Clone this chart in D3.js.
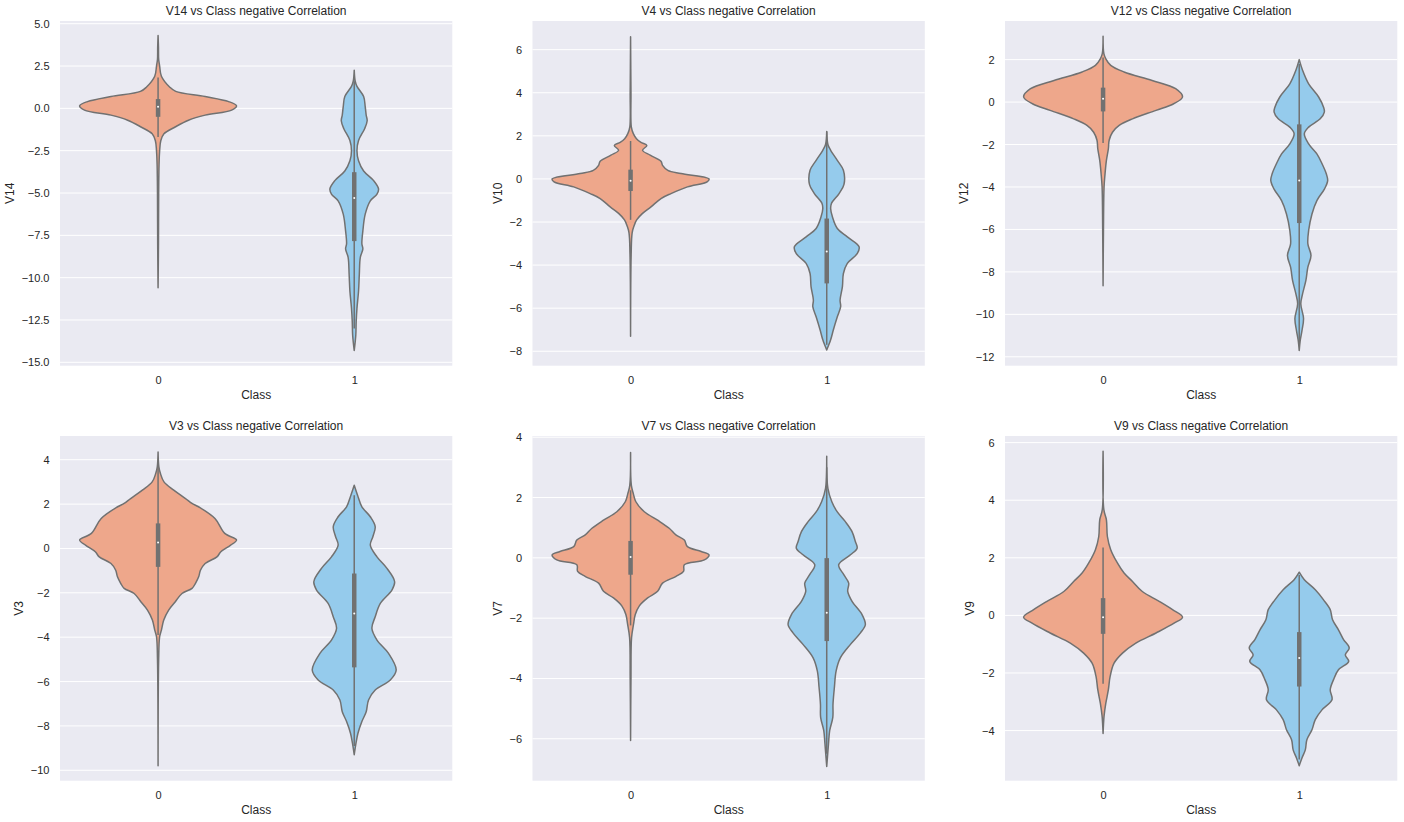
<!DOCTYPE html>
<html><head><meta charset="utf-8">
<script src="https://cdn.jsdelivr.net/npm/d3@7"></script>
<style>
body{margin:0;background:#fff}
text{font-family:"Liberation Sans",Arial,sans-serif;fill:#262626}
</style>
</head><body>
<svg id="chart" width="1404" height="822"></svg>
<script>
// ---------- data ----------
const classes = ["0", "1"];
const titles = ["V14 vs Class negative Correlation","V4 vs Class negative Correlation","V12 vs Class negative Correlation",
                "V3 vs Class negative Correlation","V7 vs Class negative Correlation","V9 vs Class negative Correlation"];
const ylabels = ["V14","V10","V12","V3","V7","V9"];
const yDomains = [[-15.2,5.16],[-8.67,7.33],[-12.42,3.82],[-10.47,5.07],[-7.39,4.04],[-5.74,6.23]];
const yTicks = [[5,2.5,0,-2.5,-5,-7.5,-10,-12.5,-15],[6,4,2,0,-2,-4,-6,-8],[2,0,-2,-4,-6,-8,-10,-12],
                [4,2,0,-2,-4,-6,-8,-10],[4,2,0,-2,-4,-6],[6,4,2,0,-2,-4]];
const tickFormats = [".1f","d","d","d","d","d"];

// violin profiles: [value, half-width in category units]
const v14_0 = [[4.3,0],[3.6,0.002],[2.9,0.003],[2.5,0.008],[1.9,0.017],[1.25,0.06],[1.0,0.09],[0.7,0.24],[0.4,0.36],[0.15,0.40],[-0.1,0.375],[-0.4,0.24],[-0.7,0.155],[-1.1,0.087],[-1.5,0.03],[-1.9,0.014],[-2.5,0.008],[-3.3,0.005],[-5,0.003],[-8,0.002],[-10.6,0]];
const v14_1 = [[2.25,0],[1.6,0.005],[1.3,0.014],[0.7,0.048],[0.1,0.056],[-0.4,0.061],[-0.73,0.066],[-1.2,0.053],[-1.9,0.022],[-2.5,0.014],[-3.1,0.022],[-3.7,0.048],[-4.27,0.099],[-4.76,0.124],[-5.06,0.116],[-5.46,0.082],[-6.25,0.056],[-7.24,0.044],[-8.0,0.039],[-8.3,0.044],[-8.8,0.031],[-9.8,0.026],[-10.8,0.022],[-11.8,0.014],[-12.6,0.01],[-13.4,0.008],[-14.3,0]];
const v10_0 = [[6.6,0],[4,0.002],[2.4,0.004],[2.1,0.014],[1.87,0.03],[1.7,0.053],[1.55,0.083],[1.33,0.061],[1.1,0.10],[0.82,0.155],[0.63,0.163],[0.4,0.19],[0.25,0.257],[0.0,0.40],[-0.14,0.39],[-0.37,0.29],[-0.68,0.206],[-0.91,0.155],[-1.3,0.104],[-1.6,0.061],[-1.9,0.031],[-2.2,0.017],[-2.5,0.008],[-3.5,0.003],[-7.3,0]];
const v10_1 = [[2.2,0],[1.6,0.006],[1.33,0.02],[0.86,0.054],[0.4,0.085],[-0.25,0.088],[-0.68,0.063],[-1.14,0.024],[-1.37,0.02],[-1.76,0.029],[-2.3,0.054],[-2.69,0.105],[-3.15,0.165],[-3.46,0.156],[-3.92,0.105],[-4.39,0.085],[-5.0,0.08],[-5.62,0.068],[-5.93,0.071],[-6.4,0.054],[-7.0,0.034],[-7.47,0.02],[-7.94,0]];
const v12_0 = [[3.1,0],[2.28,0.004],[2.04,0.014],[1.73,0.039],[1.42,0.107],[1.02,0.25],[0.63,0.37],[0.24,0.405],[-0.08,0.36],[-0.39,0.27],[-0.79,0.15],[-1.1,0.082],[-1.42,0.048],[-1.8,0.031],[-2.2,0.027],[-2.75,0.017],[-3.38,0.01],[-4.0,0.005],[-6,0.002],[-8.65,0]];
const v12_1 = [[2.0,0],[1.5,0.017],[0.86,0.048],[0.24,0.099],[-0.24,0.124],[-0.47,0.128],[-0.79,0.107],[-1.18,0.048],[-1.49,0.026],[-1.97,0.048],[-2.44,0.09],[-2.9,0.116],[-3.38,0.138],[-3.7,0.145],[-4.09,0.129],[-4.64,0.09],[-5.27,0.065],[-6.05,0.048],[-6.68,0.044],[-7.23,0.06],[-7.78,0.044],[-8.4,0.034],[-9.04,0.017],[-9.5,0.008],[-10.2,0.022],[-10.77,0.014],[-11.24,0.005],[-11.7,0]];
const v3_0 = [[4.35,0],[3.68,0.004],[3.38,0.012],[3.0,0.03],[2.63,0.08],[2.25,0.14],[2.03,0.173],[1.88,0.206],[1.35,0.29],[0.68,0.34],[0.38,0.40],[0.15,0.37],[-0.15,0.32],[-0.38,0.30],[-0.68,0.24],[-0.98,0.216],[-1.28,0.207],[-1.58,0.19],[-1.8,0.173],[-2.03,0.122],[-2.4,0.088],[-2.78,0.054],[-3.23,0.029],[-3.68,0.017],[-3.98,0.008],[-5,0.003],[-9.8,0]];
const v3_1 = [[2.85,0],[2.4,0.017],[1.88,0.039],[1.43,0.082],[0.98,0.107],[0.53,0.095],[0.15,0.082],[-0.38,0.116],[-0.9,0.167],[-1.5,0.206],[-1.88,0.192],[-2.48,0.133],[-3.08,0.107],[-3.6,0.09],[-4.13,0.116],[-4.73,0.175],[-5.48,0.214],[-5.93,0.184],[-6.38,0.107],[-6.83,0.073],[-7.36,0.061],[-7.8,0.039],[-8.33,0.019],[-8.78,0.009],[-9.3,0]];
const v7_0 = [[3.49,0],[2.4,0.004],[2.13,0.014],[1.86,0.027],[1.53,0.07],[1.25,0.138],[0.98,0.197],[0.76,0.231],[0.59,0.274],[0.37,0.29],[0.21,0.36],[0.1,0.40],[-0.07,0.376],[-0.23,0.274],[-0.45,0.27],[-0.62,0.23],[-0.84,0.163],[-1.11,0.138],[-1.33,0.087],[-1.6,0.044],[-1.88,0.024],[-2.21,0.015],[-2.65,0.005],[-4,0.002],[-6.06,0]];
const v7_1 = [[3.37,0],[2.3,0.006],[1.86,0.026],[1.53,0.053],[1.2,0.095],[0.87,0.129],[0.54,0.146],[0.32,0.155],[0.1,0.121],[-0.23,0.061],[-0.56,0.087],[-0.84,0.112],[-1.11,0.107],[-1.44,0.129],[-1.88,0.18],[-2.21,0.197],[-2.49,0.172],[-2.87,0.121],[-3.31,0.07],[-3.75,0.048],[-4.3,0.039],[-4.85,0.032],[-5.29,0.031],[-5.73,0.015],[-6.17,0.009],[-6.92,0]];
const v9_0 = [[5.7,0],[3.67,0.004],[3.32,0.017],[2.74,0.022],[2.28,0.039],[1.82,0.073],[1.47,0.107],[1.18,0.15],[0.83,0.2],[0.49,0.286],[0.2,0.354],[-0.06,0.405],[-0.27,0.362],[-0.61,0.27],[-0.96,0.167],[-1.31,0.099],[-1.66,0.056],[-2.12,0.036],[-2.58,0.027],[-3.05,0.014],[-3.5,0.005],[-4.1,0]];
const v9_1 = [[1.5,0],[1.24,0.026],[0.89,0.082],[0.54,0.124],[0.2,0.158],[-0.15,0.17],[-0.5,0.2],[-0.84,0.226],[-1.13,0.255],[-1.37,0.235],[-1.6,0.252],[-1.89,0.2],[-2.23,0.175],[-2.58,0.158],[-2.93,0.167],[-3.28,0.116],[-3.62,0.082],[-3.97,0.065],[-4.32,0.039],[-4.67,0.031],[-4.95,0.014],[-5.22,0]];

// inner box stats: [lower whisker, q25, median, q75, upper whisker]
const box_v14 = [[-1.69,-0.5,0.1,0.55,1.83],[-13.0,-7.84,-5.3,-3.77,1.6]];
const box_v10 = [[-1.9,-0.56,-0.09,0.43,1.76],[-7.7,-4.85,-3.37,-1.84,2.2]];
const box_v12 = [[-1.93,-0.44,0.16,0.68,2.1],[-11.3,-5.7,-3.7,-1.05,1.8]];
const box_v3  = [[-3.9,-0.83,0.27,1.13,3.9],[-8.9,-5.36,-2.93,-1.13,2.4]];
const box_v7  = [[-2.24,-0.56,0.03,0.56,2.24],[-6.5,-2.76,-1.82,-0.01,3.0]];
const box_v9  = [[-2.37,-0.64,-0.06,0.6,2.36],[-5.0,-2.47,-1.48,-0.58,1.4]];

const violins = [[v14_0,v14_1],[v10_0,v10_1],[v12_0,v12_1],[v3_0,v3_1],[v7_0,v7_1],[v9_0,v9_1]];
const boxes = [box_v14,box_v10,box_v12,box_v3,box_v7,box_v9];

// ---------- style / layout ----------
const fills = ["#EEA78B", "#95CBEC"];
const gray = "#717171";
const colLeft = [60, 532.5, 1005];
const rowTop = [21, 436];
const axW = 392.3, axH = 344.7;

const svg = d3.select("#chart");

titles.forEach((title, i) => {
  const left = colLeft[i % 3], top = rowTop[Math.floor(i / 3)];
  const g = svg.append("g").attr("transform", `translate(${left},${top})`);
  const x = d3.scalePoint().domain(classes).range([0, axW]).padding(0.5);
  const y = d3.scaleLinear().domain(yDomains[i]).range([axH, 0]);
  const step = x.step();

  g.append("rect").attr("width", axW).attr("height", axH).attr("fill", "#EAEAF2");

  // grid
  g.selectAll("line.grid").data(yTicks[i]).enter().append("line")
    .attr("x1", 0).attr("x2", axW)
    .attr("y1", d => y(d)).attr("y2", d => y(d))
    .attr("stroke", "#fff").attr("stroke-width", 1);

  // y axis
  const yAxis = d3.axisLeft(y).tickValues(yTicks[i]).tickFormat(d3.format(tickFormats[i])).tickSize(0).tickPadding(10.5);
  const ya = g.append("g").call(yAxis);
  ya.select(".domain").remove();
  ya.selectAll("text").style("font-size", "11px").attr("fill", "#262626");

  // x axis
  const xAxis = d3.axisBottom(x).tickSize(0).tickPadding(11);
  const xa = g.append("g").attr("transform", `translate(0,${axH})`).call(xAxis);
  xa.select(".domain").remove();
  xa.selectAll("text").style("font-size", "11px").attr("fill", "#262626");

  // violins
  classes.forEach((c, k) => {
    const cx = x(c);
    const area = d3.area()
      .curve(d3.curveCatmullRom.alpha(0.5))
      .y(d => y(d[0]))
      .x0(d => cx - d[1] * step)
      .x1(d => cx + d[1] * step);
    g.append("path").datum(violins[i][k]).attr("d", area)
      .attr("fill", fills[k]).attr("stroke", gray).attr("stroke-width", 1.5).attr("stroke-linejoin", "round");

    const b = boxes[i][k];
    g.append("line").attr("x1", cx).attr("x2", cx).attr("y1", y(b[0])).attr("y2", y(b[4]))
      .attr("stroke", gray).attr("stroke-width", 1.5);
    g.append("line").attr("x1", cx).attr("x2", cx).attr("y1", y(b[1])).attr("y2", y(b[3]))
      .attr("stroke", gray).attr("stroke-width", 4.5);
    g.append("circle").attr("cx", cx).attr("cy", y(b[2])).attr("r", 1.0).attr("fill", "#fff");
  });

  // title
  g.append("text").attr("x", axW / 2).attr("y", -6).attr("text-anchor", "middle")
    .style("font-size", "12px").text(title);

  // x label
  g.append("text").attr("x", axW / 2).attr("y", axH + 33.5).attr("text-anchor", "middle")
    .style("font-size", "12px").text("Class");

  // y label placed left of tick labels
  let minLeft = 0;
  ya.selectAll("text").each(function() { const bb = this.getBBox(); const tx = -10.5 - bb.width; if (tx < minLeft) minLeft = tx; });
  g.append("text").attr("transform", `translate(${minLeft - 7.5},${axH / 2}) rotate(-90)`)
    .attr("text-anchor", "middle").style("font-size", "12px").text(ylabels[i]);
});
</script>
</body></html>
